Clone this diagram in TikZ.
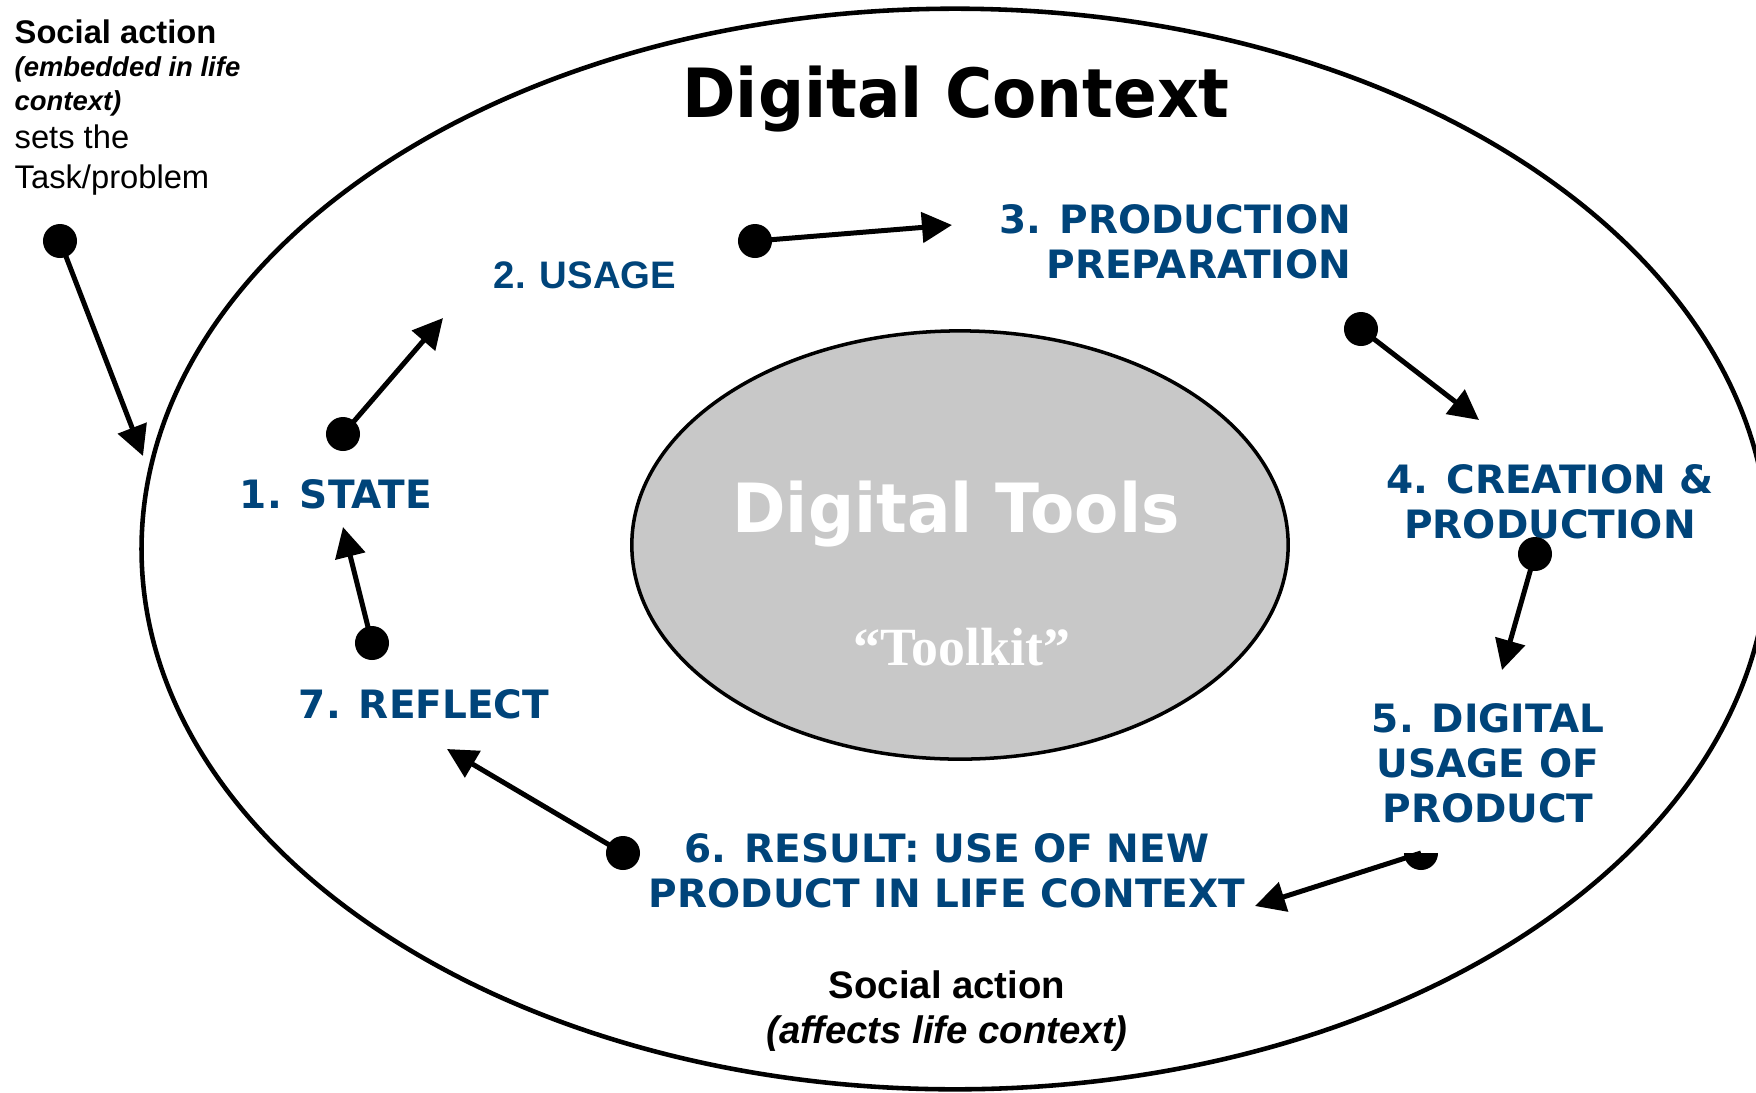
\documentclass[tikz,border=0pt]{standalone}
\usepackage{fontspec}
\setmainfont{Liberation Sans}
\newfontfamily\verdfont{DejaVu Sans}
\newfontfamily\titlefont[FakeStretch=0.95]{DejaVu Sans}
\newfontfamily\toolfont{Liberation Serif}
\usepackage{tikz}
\usetikzlibrary{arrows.meta}

\definecolor{stageblue}{RGB}{0,68,122}
\definecolor{toolgray}{RGB}{200,200,200}

\tikzset{
	stage/.style={text=stageblue, inner sep=0pt, font=\verdfont\bfseries\fontsize{11.1}{12.8}\selectfont},
	note/.style={inner sep=0pt, font=\fontsize{10.9}{12.8}\selectfont},
	flow/.style={line width=1.42pt, -{Triangle[length=0.3cm,width=0.3cm]}},
}

\begin{document}
\begin{tikzpicture}[x=0.01cm,y=-0.01cm]
	\useasboundingbox (0,0) rectangle (1756,1093);
	% the two rings
	\draw[line width=1.3pt] (955,549) ellipse [x radius=8.13cm, y radius=5.4cm];
	\draw[line width=1pt, fill=toolgray] (960,545) ellipse [x radius=3.28cm, y radius=2.14cm];
	\node (ctx) [anchor=base, inner sep=0pt, font=\titlefont\bfseries\fontsize{19.3}{20}\selectfont] at (956,117) {Digital Context};
	\node (tools) [anchor=base, inner sep=0pt, text=white, font=\titlefont\bfseries\fontsize{19.3}{20}\selectfont] at (956,532) {Digital Tools};
	\node (kit) [anchor=base, inner sep=0pt, text=white, font=\toolfont\bfseries\fontsize{15.3}{16}\selectfont] at (962,665) {“Toolkit”};
	% stages
	\node (state) [stage, anchor=base] at (336,508) {1. STATE};
	\node (usage) [stage, anchor=base, font=\bfseries\fontsize{10.9}{12.8}\selectfont] at (585,288) {2. USAGE};
	\node (prep) [stage, anchor=north east, align=right] at (1352,204) {3. PRODUCTION\\PREPARATION};
	\node (create) [stage, anchor=north, align=center] at (1550,464) {4. CREATION \&\\PRODUCTION};
	\node (digital) [stage, anchor=north, align=center] at (1488,703) {5. DIGITAL\\USAGE OF\\PRODUCT};
	\node (result) [stage, anchor=north, align=center] at (947,833) {6. RESULT: USE OF NEW\\PRODUCT IN LIFE CONTEXT};
	\node (reflect) [stage, anchor=base] at (424,718) {7. REFLECT};
	\node (task) [anchor=north west, align=left, inner sep=0pt, font=\fontsize{9.3}{9.4}\selectfont] at (14,19)
		{\textbf{Social action}\\{\fontsize{7.8}{9.4}\selectfont\bfseries\itshape (embedded in life}\\[0.3pt]{\fontsize{7.8}{9.4}\selectfont\bfseries\itshape context)}\\[1.4pt]sets the\\[2pt]Task/problem};
	\node (affects) [note, anchor=north, align=center] at (947,970) {\textbf{Social action}\\\textbf{\itshape (affects life context)}};
	% arrows: dot end and tip end
	\coordinate (d0) at (60,241);   \coordinate (t0) at (143,456);
	\coordinate (d1) at (343,434);  \coordinate (t1) at (443,318);
	\coordinate (d2) at (755,241);  \coordinate (t2) at (952,225);
	\coordinate (d3) at (1361,329); \coordinate (t3) at (1479,420);
	\coordinate (d4) at (1535,554); \coordinate (t4) at (1502,670);
	\coordinate (d5) at (1421,853); \coordinate (t5) at (1255,906);
	\coordinate (d6) at (623,853);  \coordinate (t6) at (447,749);
	\coordinate (d7) at (372,643);  \coordinate (t7) at (343,527);
	\foreach \i in {0,...,7}
		\path[flow] (d\i) edge (t\i);
	\foreach \i in {0,1,2,3,4,6,7}
		\fill (d\i) circle [radius=0.17cm];
	\fill (d5) ++(0.17cm,0) arc [start angle=0, end angle=-180, radius=0.17cm] -- cycle;
\end{tikzpicture}
\end{document}
